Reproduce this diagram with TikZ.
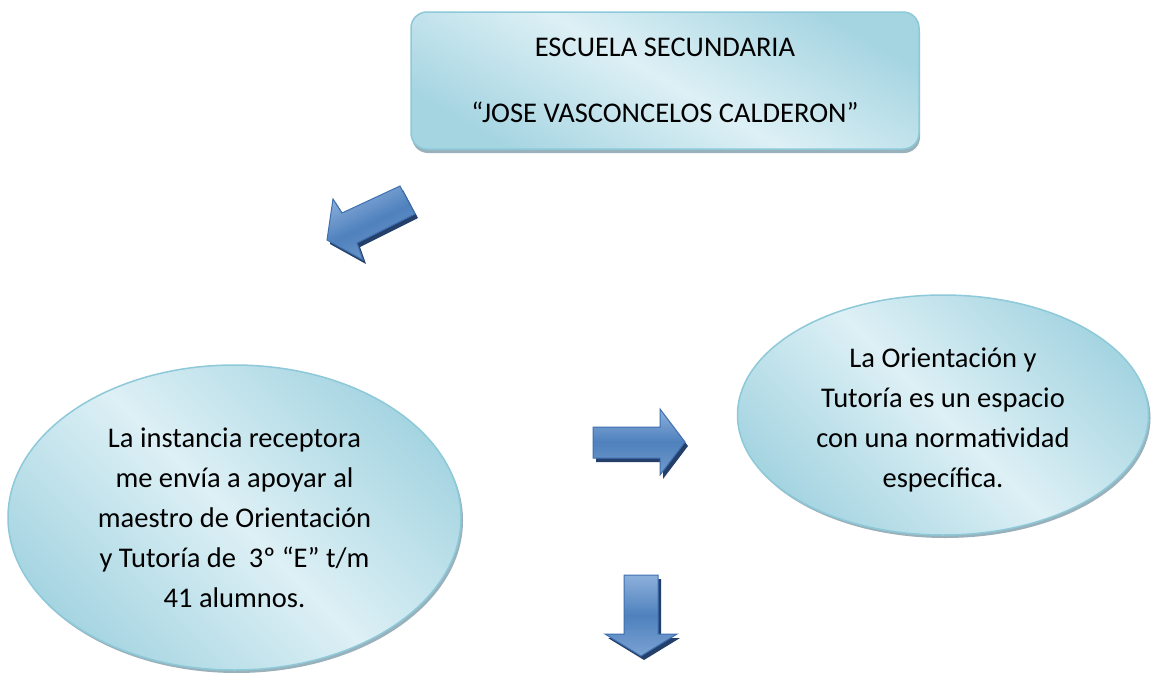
\documentclass[tikz,border=0pt]{standalone}
\usepackage{fontspec}
\setmainfont{Carlito}
\usetikzlibrary{shapes.geometric,shadows}
\definecolor{boxlight}{HTML}{DDF0F5}
\definecolor{boxdark}{HTML}{A6D5E2}
\definecolor{boxline}{HTML}{8DC9D9}
\definecolor{boxshadow}{HTML}{8FA9B3}
\definecolor{arrlight}{HTML}{8DB0DC}
\definecolor{arrmid}{HTML}{4F81BD}
\definecolor{arrline}{HTML}{3E70B0}
\definecolor{arrshadow}{HTML}{24406A}
\begin{document}
\begin{tikzpicture}[x=1pt,y=-1pt,
  txt/.style={font=\fontsize{28.5}{40}\selectfont, align=center, text=black},
  bubble/.style={txt, ellipse, draw=boxline, line width=1.5pt,
    top color=boxdark, bottom color=boxdark, middle color=boxlight, shading angle=-45,
    inner sep=0pt,
    drop shadow={shadow xshift=2pt, shadow yshift=-3pt, fill=boxshadow, opacity=0.9}},
  titlebox/.style={txt, rectangle, rounded corners=16pt, draw=boxline, line width=1.5pt,
    top color=boxdark, bottom color=boxdark, middle color=boxlight, shading angle=-30,
    inner sep=0pt,
    drop shadow={shadow xshift=1pt, shadow yshift=-4pt, fill=boxshadow, opacity=0.9}},
  blockarrow/.style={draw=arrline, line width=1pt, line join=miter,
    top color=arrlight, bottom color=arrmid!80!white, middle color=arrmid,
    drop shadow={shadow xshift=3pt, shadow yshift=-4pt, fill=arrshadow, opacity=1}}
]
\fill[white] (0,0) rectangle (1151,672);
\useasboundingbox (0,0) rectangle (1151,672);

% title box
\node[titlebox, minimum width=508pt, minimum height=137pt] (title) at (665,80.5)
  {ESCUELA SECUNDARIA\\[26pt]“JOSE VASCONCELOS CALDERON”};

% left ellipse
\node[bubble, minimum width=453pt, minimum height=305pt] (left) at (234.5,517.5)
  {La instancia receptora\\me envía a apoyar al\\maestro de Orientación\\y Tutoría de \ 3º “E” t/m\\41 alumnos.};

% right ellipse
\node[bubble, minimum width=411pt, minimum height=240pt] (right) at (943,415)
  {\rule{0pt}{30pt}La Orientación y\\Tutoría es un espacio\\con una normatividad\\específica.};

% down-left arrow
\coordinate (dl1) at (400,186);
\coordinate (dl2) at (415,214);
\coordinate (dl3) at (357,243);
\coordinate (dl4) at (363,260);
\coordinate (dltip) at (327,240);
\coordinate (dl6) at (333,199);
\coordinate (dl7) at (342,213);
\path[blockarrow, shading angle=26] (dl1) -- (dl2) -- (dl3) -- (dl4) -- (dltip) -- (dl6) -- (dl7) -- cycle;

% right arrow
\coordinate (ra1) at (593,427);
\coordinate (ra2) at (660,427);
\coordinate (ra3) at (660,409);
\coordinate (ratip) at (685,442);
\coordinate (ra5) at (660,475);
\coordinate (ra6) at (660,458);
\coordinate (ra7) at (593,458);
\path[blockarrow] (ra1) -- (ra2) -- (ra3) -- (ratip) -- (ra5) -- (ra6) -- (ra7) -- cycle;

% down arrow
\coordinate (da1) at (624,575);
\coordinate (da2) at (658,575);
\coordinate (da3) at (658,634);
\coordinate (da4) at (677,634);
\coordinate (datip) at (641,656);
\coordinate (da6) at (605,634);
\coordinate (da7) at (624,634);
\path[blockarrow, top color=arrlight, bottom color=arrlight!70!arrmid, middle color=arrmid]
  (da1) -- (da2) -- (da3) -- (da4) -- (datip) -- (da6) -- (da7) -- cycle;
\end{tikzpicture}
\end{document}
